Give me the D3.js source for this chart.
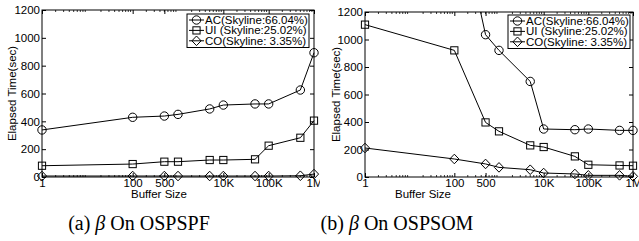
<!DOCTYPE html>
<html>
<head>
<meta charset="utf-8">
<script src="https://cdn.jsdelivr.net/npm/d3@7"></script>
<style>
  body { margin: 0; background: #fff; }
  svg { display: block; }
  text { font-family: "Liberation Sans", Arial, sans-serif; fill: #000; }
</style>
</head>
<body>
<div id="chart"></div>
<script>
// buffer sizes on the log x axis
const bufferSizes = [1, 100, 500, 1000, 5000, 10000, 50000, 100000, 500000, 1000000];
const xTickValues = [1, 100, 500, 10000, 100000, 1000000];
const xTickLabels = ['1', '100', '500', '10K', '100K', '1M'];
const yTickValues = [0, 200, 400, 600, 800, 1000, 1200];

const seriesNames = ['AC(Skyline:66.04%)', 'UI (Skyline:25.02%)', 'CO(Skyline: 3.35%)'];
const seriesMarkers = ['circle', 'square', 'diamond'];

// (a) OSPSPF
const ospspfAC = [338, 429, 438, 450, 489, 517, 525, 525, 625, 893];
const ospspfUI = [81, 93, 110, 110, 122, 122, 127, 225, 282, 405];
const ospspfCO = [7, 7, 7, 7, 7, 7, 7, 7, 9, 21];

// (b) OSPSOM  (AC goes off the top for the small buffers)
const ospsomAC = [2600, 2070, 1035, 921, 695, 349, 344, 349, 339, 339];
const ospsomUI = [1108, 921, 397, 332, 230, 218, 150, 89, 84, 82];
const ospsomCO = [211, 131, 95, 70, 53, 29, 22, 12, 12, 5];

const captions = ['(a) ', ' On OSPSPF', '(b) ', ' On OSPSOM'];

const W = 639, H = 241;
const svg = d3.select('#chart').append('svg')
    .attr('width', W)
    .attr('height', H);

const panels = [
    {id: 'a', left: 42, right: 314, top: 10, bottom: 177, ylabX: 12, xlabX: 159,
     legX: 187, legY: 14, data: [ospspfAC, ospspfUI, ospspfCO], cap: [captions[0], captions[1]], capX: 139},
    {id: 'b', left: 365, right: 633, top: 12, bottom: 177, ylabX: 336, xlabX: 423,
     legX: 508, legY: 15, data: [ospsomAC, ospsomUI, ospsomCO], cap: [captions[2], captions[3]], capX: 397}
];

const defs = svg.append('defs');

function drawMarker(g, type, x, y) {
    if (type === 'circle') {
        g.append('circle').attr('cx', x).attr('cy', y).attr('r', 4.2);
    } else if (type === 'square') {
        g.append('rect').attr('x', x - 3.6).attr('y', y - 3.6).attr('width', 7.2).attr('height', 7.2);
    } else {
        g.append('path').attr('d', `M${x},${y - 4.8}L${x + 4.6},${y}L${x},${y + 4.8}L${x - 4.6},${y}Z`);
    }
}

panels.forEach(p => {
    // each half of the figure is cropped at its own edge
    defs.append('clipPath').attr('id', 'fig-' + p.id)
        .append('rect').attr('x', p.id === 'a' ? 0 : 320).attr('y', 0)
        .attr('width', p.id === 'a' ? 320 : 319).attr('height', H);
    defs.append('clipPath').attr('id', 'plot-' + p.id)
        .append('rect').attr('x', p.left - 6).attr('y', p.top)
        .attr('width', p.right - p.left + 12).attr('height', p.bottom - p.top + 8);

    const fig = svg.append('g').attr('clip-path', `url(#fig-${p.id})`);

    const x = d3.scaleLog().domain([1, 1000000]).range([p.left, p.right]);
    const y = d3.scaleLinear().domain([0, 1200]).range([p.bottom, p.top]);

    // minor log ticks (2..9 in every decade) on top and bottom
    const minors = [];
    for (let d = 1; d < 1000000; d *= 10) {
        for (let k = 2; k <= 9; k++) minors.push(d * k);
    }
    const minorG = fig.append('g').attr('stroke', '#000').attr('stroke-width', 0.8);
    minors.forEach(m => {
        minorG.append('line').attr('x1', x(m)).attr('x2', x(m))
            .attr('y1', p.bottom).attr('y2', p.bottom - 2);
        minorG.append('line').attr('x1', x(m)).attr('x2', x(m))
            .attr('y1', p.top).attr('y2', p.top + 2);
    });

    fig.append('g')
        .attr('transform', `translate(0,${p.bottom})`)
        .call(d3.axisBottom(x).tickValues(xTickValues)
            .tickFormat((d, i) => xTickLabels[i]).tickSize(-4).tickPadding(2));
    fig.append('g')
        .attr('transform', `translate(0,${p.top})`)
        .call(d3.axisTop(x).tickValues(xTickValues).tickFormat('').tickSize(-4));
    fig.append('g')
        .attr('transform', `translate(${p.left},0)`)
        .call(d3.axisLeft(y).tickValues(yTickValues).tickFormat(d3.format('d'))
            .tickSize(-4).tickPadding(2));
    fig.append('g')
        .attr('transform', `translate(${p.right},0)`)
        .call(d3.axisRight(y).tickValues(yTickValues).tickFormat('').tickSize(-4));

    fig.selectAll('.domain').remove();
    fig.selectAll('.tick line').attr('stroke', '#000');
    fig.selectAll('.tick text').attr('font-size', '11.5px');

    // frame
    fig.append('rect')
        .attr('x', p.left).attr('y', p.top)
        .attr('width', p.right - p.left).attr('height', p.bottom - p.top)
        .attr('fill', 'none').attr('stroke', '#000').attr('stroke-width', 1);

    // series
    const line = d3.line().x((d, i) => x(bufferSizes[i])).y(d => y(d));
    const plotG = fig.append('g').attr('clip-path', `url(#plot-${p.id})`);
    p.data.forEach((vals, s) => {
        plotG.append('path')
            .attr('d', line(vals))
            .attr('fill', 'none').attr('stroke', '#000').attr('stroke-width', 1);
        const mg = plotG.append('g').attr('fill', 'none').attr('stroke', '#000').attr('stroke-width', 1);
        vals.forEach((v, i) => drawMarker(mg, seriesMarkers[s], x(bufferSizes[i]), y(v)));
    });

    // legend
    const lg = fig.append('g');
    lg.append('rect')
        .attr('x', p.legX).attr('y', p.legY)
        .attr('width', 122).attr('height', 33.5)
        .attr('fill', '#fff').attr('stroke', '#000').attr('stroke-width', 1);
    seriesNames.forEach((name, s) => {
        const cy = p.legY + 6 + s * 10.4;
        lg.append('line').attr('x1', p.legX + 2).attr('x2', p.legX + 17)
            .attr('y1', cy).attr('y2', cy).attr('stroke', '#000');
        const mg = lg.append('g').attr('fill', 'none').attr('stroke', '#000');
        drawMarker(mg, seriesMarkers[s], p.legX + 9.5, cy);
        lg.append('text').attr('x', p.legX + 18).attr('y', cy + 4)
            .attr('font-size', '11.5px').text(name);
    });

    // axis titles
    fig.append('text')
        .attr('x', p.xlabX).attr('y', 198)
        .attr('text-anchor', 'middle').attr('font-size', '11.5px')
        .text('Buffer Size');
    fig.append('text')
        .attr('transform', `translate(${p.ylabX + 4},${(p.top + p.bottom) / 2}) rotate(-90)`)
        .attr('text-anchor', 'middle').attr('font-size', '11.5px')
        .text('Elapsed Time(sec)');

    // caption under the panel
    const cap = svg.append('text')
        .attr('x', p.capX).attr('y', 230)
        .attr('text-anchor', 'middle')
        .style('font-family', '"Liberation Serif", "Times New Roman", serif')
        .attr('font-size', '20px');
    cap.append('tspan').text(p.cap[0]);
    cap.append('tspan').style('font-style', 'italic').text('β');
    cap.append('tspan').text(p.cap[1]);
});
</script>
</body>
</html>
